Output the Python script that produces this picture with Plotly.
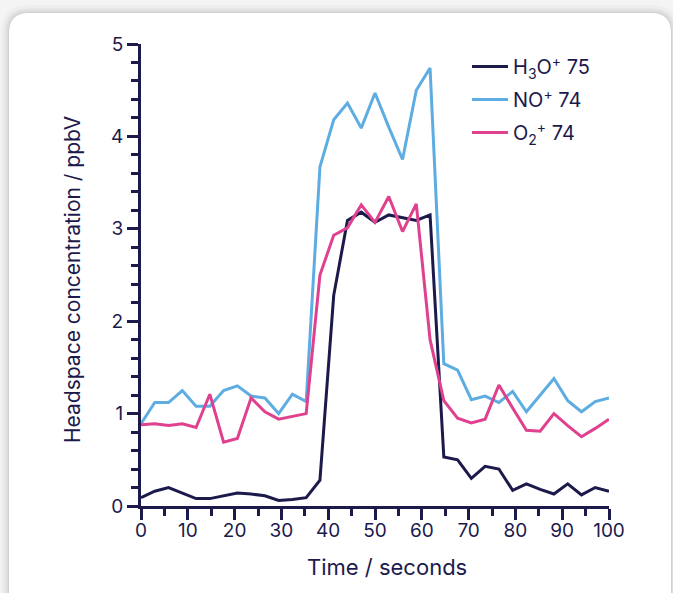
import plotly.graph_objects as go

n_points = 35
time_s = [i * 100 / 34 for i in range(n_points)]

h3o_75 = [0.09, 0.16, 0.20, 0.14, 0.08, 0.08, 0.11, 0.14, 0.13, 0.11, 0.06, 0.07, 0.09,
          0.28, 2.28, 3.09, 3.18, 3.07, 3.15, 3.12, 3.09, 3.15,
          0.53, 0.50, 0.30, 0.43, 0.40, 0.17, 0.24, 0.18, 0.13, 0.24, 0.12, 0.20, 0.16]
no_74 = [0.89, 1.12, 1.12, 1.25, 1.08, 1.08, 1.25, 1.30, 1.19, 1.17, 1.00, 1.21, 1.13,
         3.67, 4.18, 4.36, 4.09, 4.47, 4.10, 3.75, 4.50, 4.74,
         1.54, 1.47, 1.15, 1.19, 1.12, 1.24, 1.02, 1.20, 1.38, 1.14, 1.02, 1.13, 1.17]
o2_74 = [0.88, 0.89, 0.87, 0.89, 0.85, 1.21, 0.69, 0.73, 1.17, 1.02, 0.94, 0.97, 1.00,
         2.50, 2.93, 3.01, 3.26, 3.07, 3.35, 2.97, 3.27, 1.80,
         1.14, 0.95, 0.90, 0.94, 1.31, 1.06, 0.82, 0.81, 1.00, 0.87, 0.75, 0.84, 0.94]

series_names = ["H<sub>3</sub>O<sup>+</sup> 75", "NO<sup>+</sup> 74", "O<sub>2</sub><sup>+</sup> 74"]
series_values = [h3o_75, no_74, o2_74]
series_colors = ["#1c1a4b", "#5dade2", "#e0418e"]

x_ticks = [0, 10, 20, 30, 40, 50, 60, 70, 80, 90, 100]
y_ticks = [0, 1, 2, 3, 4, 5]

NAVY = "#1c1a4b"
FONT = "Inter"

W, H = 673, 593
L, R, T, B = 141, 64, 44, 87
pw, ph = W - L - R, H - T - B


def px_to_paper(x, y):
    return (x - L) / pw, (H - B - y) / ph


fig = go.Figure()
for i, (name, vals, col) in enumerate(zip(series_names, series_values, series_colors)):
    fig.add_trace(go.Scatter(x=time_s, y=vals, mode="lines", name=name, legendgroup=f"g{i}",
                             line=dict(color=col, width=3)))


def card_path(x0, y0, x1, y1, r):
    def p(x, y):
        a, b = px_to_paper(x, y)
        return f"{a:.5f},{b:.5f}"
    return (f"M {p(x0 + r, y0)} L {p(x1 - r, y0)} Q {p(x1, y0)} {p(x1, y0 + r)} "
            f"L {p(x1, y1 - r)} Q {p(x1, y1)} {p(x1 - r, y1)} L {p(x0 + r, y1)} "
            f"Q {p(x0, y1)} {p(x0, y1 - r)} L {p(x0, y0 + r)} Q {p(x0, y0)} {p(x0 + r, y0)} Z")


shapes = []
for grow, op in [(8, 0.025), (5, 0.03), (3, 0.04), (1, 0.05)]:
    shapes.append(dict(type="path", xref="paper", yref="paper", layer="below",
                       path=card_path(9 - grow, 13 - grow, 671 + grow, 640, 20 + grow),
                       fillcolor=f"rgba(0,0,0,{op})", line=dict(width=0)))
shapes.append(dict(type="path", xref="paper", yref="paper", layer="below",
                   path=card_path(9, 13, 671, 640, 20),
                   fillcolor="white", line=dict(width=0)))

tx, ty = px_to_paper(387, 567)
yx, yy = px_to_paper(72, 280)

fig.update_layout(
    width=W, height=H,
    margin=dict(l=L, r=R, t=T, b=B),
    paper_bgcolor="#f4f4f4",
    plot_bgcolor="rgba(0,0,0,0)",
    font=dict(family=FONT, color=NAVY, size=18),
    shapes=shapes,
    showlegend=True,
    legend=dict(x=px_to_paper(467, 0)[0], y=px_to_paper(0, 47)[1],
                xanchor="left", yanchor="top", bgcolor="rgba(0,0,0,0)",
                itemwidth=36, tracegroupgap=4,
                font=dict(family=FONT, size=20, color=NAVY)),
    annotations=[
        dict(text="Time / seconds", xref="paper", yref="paper", x=tx, y=ty,
             xanchor="center", yanchor="middle",
             showarrow=False, font=dict(family=FONT, size=22, color=NAVY)),
        dict(text="Headspace concentration / ppbV", xref="paper", yref="paper",
             x=yx, y=yy, textangle=-90, showarrow=False, xanchor="center", yanchor="middle",
             font=dict(family=FONT, size=21, color=NAVY)),
    ],
)

fig.update_xaxes(range=[0, 100], tickvals=x_ticks, ticktext=[str(v) for v in x_ticks],
                 showgrid=False, zeroline=False, showline=True, linecolor=NAVY, linewidth=3,
                 ticks="outside", ticklen=11, tickwidth=3, tickcolor=NAVY,
                 ticklabelstandoff=-6,
                 minor=dict(dtick=5, ticks="outside", ticklen=7, tickwidth=3, tickcolor=NAVY,
                            showgrid=False),
                 tickfont=dict(family=FONT, size=19, color=NAVY))
fig.update_yaxes(range=[0, 5], tickvals=y_ticks, ticktext=[str(v) for v in y_ticks],
                 showgrid=False, zeroline=False, showline=True, linecolor=NAVY, linewidth=3,
                 ticks="outside", ticklen=11, tickwidth=3, tickcolor=NAVY,
                 minor=dict(dtick=0.2, ticks="outside", ticklen=7, tickwidth=3, tickcolor=NAVY,
                            showgrid=False),
                 tickfont=dict(family=FONT, size=19, color=NAVY))

fig.write_html("out.html")
